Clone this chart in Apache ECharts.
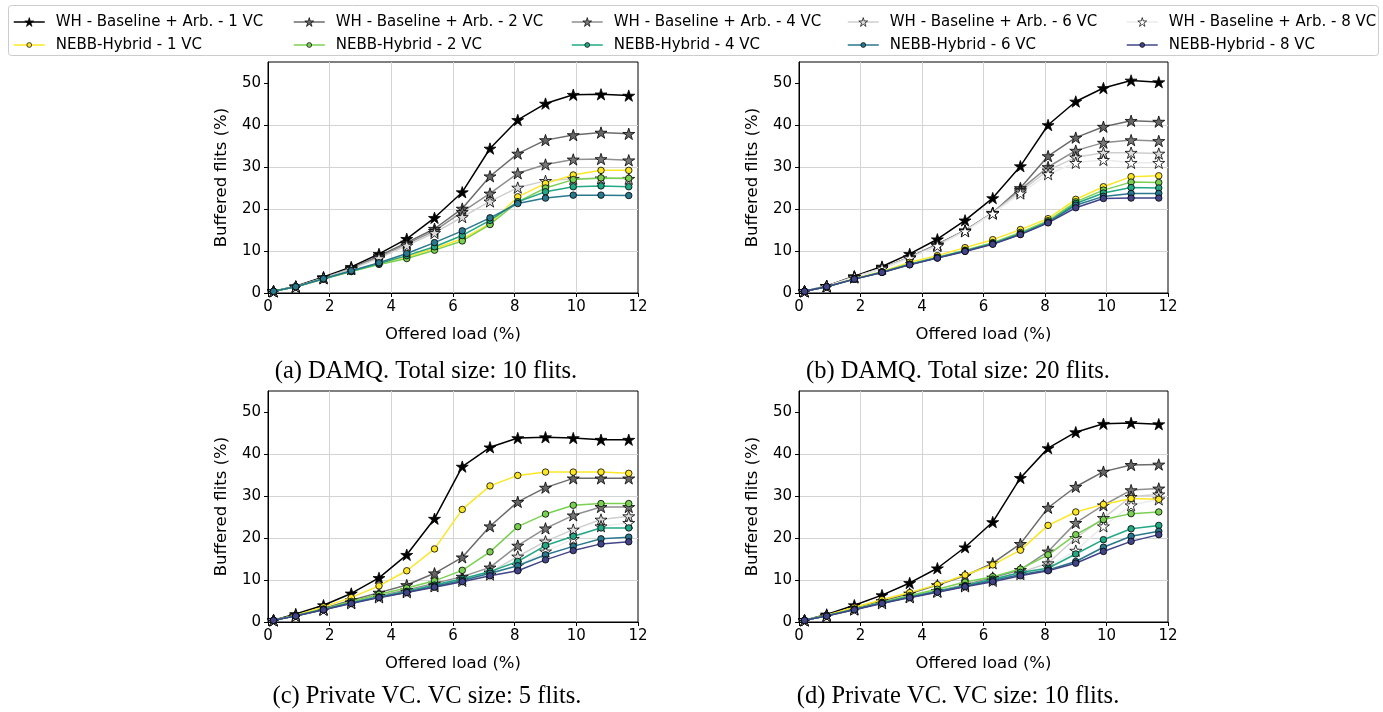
<!DOCTYPE html>
<html>
<head>
<meta charset="utf-8">
<title>Buffered flits</title>
<script src="https://cdn.jsdelivr.net/npm/echarts@6/dist/echarts.min.js"></script>
<style>
  html, body { margin: 0; padding: 0; background: #fff; }
  #chart { width: 1383px; height: 712px; }
</style>
</head>
<body>
<div id="chart"></div>
<script>
// offered load (%) of every point
var loads = [0.18, 0.9, 1.8, 2.7, 3.6, 4.5, 5.4, 6.3, 7.2, 8.1, 9.0, 9.9, 10.8, 11.7];

var vcs = [1, 2, 4, 6, 8];
var whNames = vcs.map(function (v) { return 'WH - Baseline + Arb. - ' + v + ' VC'; });
var nbNames = vcs.map(function (v) { return 'NEBB-Hybrid - ' + v + ' VC'; });

var captions = [
    '(a) DAMQ. Total size: 10 flits.',
    '(b) DAMQ. Total size: 20 flits.',
    '(c) Private VC. VC size: 5 flits.',
    '(d) Private VC. VC size: 10 flits.'
];
var yTicks = [0, 10, 20, 30, 40, 50];

// (a) DAMQ 10 flits  (no 8 VC)
var a_wh1 = [0.4, 1.6, 3.8, 6.2, 9.3, 12.9, 17.9, 24.0, 34.4, 41.2, 45.1, 47.2, 47.3, 47.0];
var a_wh2 = [0.4, 1.5, 3.6, 5.9, 8.8, 12.0, 15.3, 20.1, 27.8, 33.2, 36.4, 37.6, 38.2, 37.9];
var a_wh4 = [0.4, 1.5, 3.6, 5.8, 8.5, 11.7, 14.8, 19.3, 23.7, 28.5, 30.6, 31.8, 31.9, 31.6];
var a_wh6 = [0.4, 1.5, 3.5, 5.7, 8.3, 11.3, 14.3, 18.1, 21.8, 25.1, 26.7, 27.2, 27.3, 27.2];
var a_nb1 = [0.4, 1.5, 3.4, 5.2, 7.1, 8.6, 10.6, 12.9, 16.5, 22.9, 26.1, 28.1, 29.2, 29.2];
var a_nb2 = [0.4, 1.5, 3.3, 5.1, 6.8, 8.2, 10.2, 12.4, 16.3, 21.7, 25.0, 27.0, 27.4, 27.3];
var a_nb4 = [0.4, 1.5, 3.4, 5.2, 7.0, 8.9, 11.0, 13.7, 17.3, 21.7, 24.1, 25.3, 25.5, 25.3];
var a_nb6 = [0.4, 1.5, 3.4, 5.3, 7.2, 9.4, 12.0, 14.8, 17.9, 21.3, 22.6, 23.3, 23.3, 23.2];

// (b) DAMQ 20 flits
var b_wh1 = [0.4, 1.7, 4.0, 6.3, 9.3, 12.8, 17.3, 22.6, 30.2, 40.0, 45.6, 48.8, 50.6, 50.2];
var b_wh2 = [0.4, 1.6, 3.8, 5.9, 8.5, 11.6, 14.9, 19.1, 25.0, 32.6, 37.0, 39.6, 41.0, 40.8];
var b_wh4 = [0.4, 1.6, 3.8, 5.9, 8.5, 11.5, 14.9, 19.1, 24.6, 30.0, 33.9, 35.8, 36.4, 36.2];
var b_wh6 = [0.4, 1.6, 3.8, 5.9, 8.4, 11.4, 14.8, 19.0, 24.2, 29.2, 32.3, 33.4, 33.4, 33.2];
var b_wh8 = [0.4, 1.6, 3.7, 5.8, 8.3, 11.2, 14.7, 18.9, 23.7, 28.3, 31.0, 31.7, 31.0, 31.0];
var b_nb1 = [0.4, 1.5, 3.4, 5.1, 7.3, 8.9, 10.8, 12.7, 15.1, 17.7, 22.3, 25.3, 27.7, 27.9];
var b_nb2 = [0.4, 1.5, 3.3, 5.0, 6.9, 8.5, 10.2, 12.0, 14.4, 17.2, 21.7, 24.5, 26.4, 26.3];
var b_nb4 = [0.4, 1.5, 3.3, 5.0, 6.8, 8.4, 10.0, 11.8, 14.1, 16.9, 21.3, 23.8, 25.1, 25.0];
var b_nb6 = [0.4, 1.5, 3.3, 4.9, 6.8, 8.4, 10.0, 11.7, 14.0, 16.8, 20.9, 23.0, 23.7, 23.7];
var b_nb8 = [0.4, 1.5, 3.3, 4.9, 6.7, 8.3, 9.9, 11.6, 13.9, 16.7, 20.3, 22.5, 22.6, 22.6];

// (c) Private VC 5 flits
var c_wh1 = [0.4, 1.9, 4.0, 6.8, 10.5, 16.0, 24.6, 37.0, 41.6, 43.8, 44.0, 43.8, 43.4, 43.4];
var c_wh2 = [0.4, 1.5, 3.2, 5.2, 7.0, 8.8, 11.6, 15.4, 22.8, 28.6, 32.0, 34.2, 34.2, 34.2];
var c_wh4 = [0.4, 1.5, 3.0, 4.7, 6.2, 7.6, 9.2, 10.8, 13.0, 18.2, 22.3, 25.4, 27.4, 27.4];
var c_wh6 = [0.4, 1.5, 3.0, 4.6, 6.0, 7.3, 8.8, 10.2, 11.8, 15.6, 19.2, 22.0, 24.4, 25.2];
var c_wh8 = [0.4, 1.5, 2.9, 4.5, 5.9, 7.1, 8.5, 9.8, 11.3, 13.5, 16.8, 19.8, 22.8, 23.6];
var c_nb1 = [0.4, 1.6, 3.6, 5.8, 8.6, 12.2, 17.4, 26.8, 32.4, 34.9, 35.7, 35.7, 35.7, 35.4];
var c_nb2 = [0.4, 1.5, 3.1, 4.9, 6.6, 8.1, 9.8, 12.3, 16.7, 22.7, 25.7, 27.8, 28.2, 28.2];
var c_nb4 = [0.4, 1.5, 3.0, 4.6, 6.0, 7.3, 8.8, 10.3, 12.0, 14.4, 18.2, 20.4, 22.4, 22.4];
var c_nb6 = [0.4, 1.5, 2.9, 4.5, 5.9, 7.1, 8.5, 9.9, 11.6, 13.4, 16.0, 18.0, 19.8, 20.2];
var c_nb8 = [0.4, 1.4, 2.9, 4.4, 5.8, 7.0, 8.3, 9.6, 11.0, 12.2, 14.8, 17.0, 18.6, 19.1];

// (d) Private VC 10 flits
var d_wh1 = [0.4, 1.8, 4.0, 6.4, 9.3, 12.8, 17.8, 23.8, 34.3, 41.4, 45.2, 47.2, 47.4, 47.1];
var d_wh2 = [0.4, 1.5, 3.3, 5.0, 6.8, 8.8, 11.0, 14.0, 18.6, 27.2, 32.2, 35.8, 37.4, 37.5];
var d_wh4 = [0.4, 1.5, 3.1, 4.7, 6.1, 7.4, 8.9, 10.6, 12.4, 16.8, 23.6, 27.8, 31.4, 31.8];
var d_wh6 = [0.4, 1.5, 3.0, 4.6, 6.0, 7.3, 8.7, 10.1, 11.8, 14.0, 20.0, 24.8, 29.8, 30.4];
var d_wh8 = [0.4, 1.5, 3.0, 4.5, 5.9, 7.2, 8.5, 9.8, 11.4, 13.2, 17.0, 22.8, 27.8, 29.2];
var d_nb1 = [0.4, 1.6, 3.5, 5.3, 7.0, 8.9, 11.2, 13.6, 17.1, 23.0, 26.2, 28.0, 29.4, 29.2];
var d_nb2 = [0.4, 1.5, 3.1, 4.7, 6.3, 7.8, 9.5, 10.8, 12.6, 16.0, 20.8, 24.4, 25.8, 26.2];
var d_nb4 = [0.4, 1.5, 3.0, 4.6, 6.0, 7.3, 8.7, 10.2, 11.8, 12.8, 16.2, 19.6, 22.2, 23.0];
var d_nb6 = [0.4, 1.5, 3.0, 4.5, 5.9, 7.2, 8.5, 9.9, 11.3, 12.4, 14.4, 17.8, 20.4, 21.6];
var d_nb8 = [0.4, 1.4, 2.9, 4.4, 5.8, 7.1, 8.4, 9.6, 11.0, 12.2, 14.0, 16.8, 19.2, 20.8];

var panels = [
    { wh: [a_wh1, a_wh2, a_wh4, a_wh6, null], nb: [a_nb1, a_nb2, a_nb4, a_nb6, null] },
    { wh: [b_wh1, b_wh2, b_wh4, b_wh6, b_wh8], nb: [b_nb1, b_nb2, b_nb4, b_nb6, b_nb8] },
    { wh: [c_wh1, c_wh2, c_wh4, c_wh6, c_wh8], nb: [c_nb1, c_nb2, c_nb4, c_nb6, c_nb8] },
    { wh: [d_wh1, d_wh2, d_wh4, d_wh6, d_wh8], nb: [d_nb1, d_nb2, d_nb4, d_nb6, d_nb8] }
];

// styles
var whLine = ['#000000', '#6b6b6b', '#8f8f8f', '#cfcfcf', '#ebebeb'];
var whFill = ['#000000', '#666666', '#777777', '#dcdcdc', '#ffffff'];
var nbColor = ['#fde725', '#7ad151', '#22a884', '#2a788e', '#414487'];
var star = 'path://M50 0 L61.23 34.55 L97.55 34.55 L68.16 55.9 L79.39 90.45 L50 69.1 L20.61 90.45 L31.84 55.9 L2.45 34.55 L38.77 34.55 Z';

var gridPos = [
    { left: 268, top: 62, width: 370, height: 231 },
    { left: 799, top: 62, width: 369, height: 231 },
    { left: 268, top: 391, width: 370, height: 231 },
    { left: 799, top: 391, width: 369, height: 231 }
];
var capPos = [[426, 372], [958, 372], [427, 697], [958, 697]];
var colX = [55, 335, 613, 889, 1168];

var font = 'DejaVu Sans';
var grids = [], xAxes = [], yAxes = [], series = [], legends = [], graphics = [];

graphics.push({
    type: 'rect', left: 8, top: 5, z: -10,
    shape: { width: 1370, height: 50, r: 3 },
    style: { fill: '#fff', stroke: '#cccccc', lineWidth: 1 }
});

gridPos.forEach(function (g, i) {
    grids.push({
        left: g.left, top: g.top, width: g.width, height: g.height,
        show: true, borderColor: '#000', borderWidth: 1, backgroundColor: 'transparent'
    });
    xAxes.push({
        type: 'value', gridIndex: i, min: 0, max: 12, interval: 2,
        name: 'Offered load (%)', nameLocation: 'middle', nameGap: 33,
        nameTextStyle: { fontFamily: font, fontSize: 16.5, color: '#000' },
        axisLine: { show: true, lineStyle: { color: '#000', width: 1 } },
        axisTick: { show: true, length: 4, lineStyle: { color: '#000' } },
        axisLabel: { fontFamily: font, fontSize: 15, color: '#000', margin: 7 },
        splitLine: { show: true, showMinLine: false, showMaxLine: false, lineStyle: { color: '#d4d4d4', width: 1 } }
    });
    yAxes.push({
        type: 'value', gridIndex: i, min: 0, max: 55, interval: 10,
        name: 'Buffered flits (%)', nameLocation: 'middle', nameGap: 38,
        nameTextStyle: { fontFamily: font, fontSize: 16.5, color: '#000' },
        axisLine: { show: true, lineStyle: { color: '#000', width: 1 } },
        axisTick: { show: true, length: 4, lineStyle: { color: '#000' }, customValues: yTicks },
        axisLabel: { fontFamily: font, fontSize: 15, color: '#000', margin: 7, customValues: yTicks },
        splitLine: { show: true, showMinLine: false, showMaxLine: false, lineStyle: { color: '#d4d4d4', width: 1 } }
    });
    graphics.push({
        type: 'text', x: capPos[i][0], y: capPos[i][1],
        style: {
            text: captions[i], fill: '#000', align: 'center', verticalAlign: 'middle',
            font: '24.5px "Liberation Serif", "Times New Roman", serif'
        }
    });

    var p = panels[i];
    p.wh.forEach(function (vals, k) {
        if (!vals) return;
        series.push({
            name: whNames[k], type: 'line', xAxisIndex: i, yAxisIndex: i,
            data: loads.map(function (x, j) { return [x, vals[j]]; }),
            symbol: star, symbolSize: 12, symbolKeepAspect: true,
            lineStyle: { color: whLine[k], width: 1.5 },
            itemStyle: { color: whFill[k], borderColor: '#000', borderWidth: 0.8 },
            emphasis: { disabled: true }, animation: false, z: 2
        });
    });
    p.nb.forEach(function (vals, k) {
        if (!vals) return;
        series.push({
            name: nbNames[k], type: 'line', xAxisIndex: i, yAxisIndex: i,
            data: loads.map(function (x, j) { return [x, vals[j]]; }),
            symbol: 'circle', symbolSize: 6.5,
            lineStyle: { color: nbColor[k], width: 1.5 },
            itemStyle: { color: nbColor[k], borderColor: '#000', borderWidth: 0.8 },
            emphasis: { disabled: true }, animation: false, z: 3
        });
    });
});

// one legend per entry so the columns line up like the original
vcs.forEach(function (v, k) {
    legends.push({
        data: [whNames[k]], left: colX[k] - 42, top: 14.5, padding: 0,
        itemWidth: 31, itemHeight: 11, selectedMode: false,
        itemStyle: { color: whFill[k], borderColor: '#000', borderWidth: 0.7 },
        lineStyle: { color: whLine[k], width: 1.5 },
        textStyle: { fontFamily: font, fontSize: 15, color: '#000', padding: [0, 0, 0, 6] }
    });
    legends.push({
        data: [nbNames[k]], left: colX[k] - 42, top: 37.5, padding: 0,
        itemWidth: 31, itemHeight: 6, selectedMode: false,
        itemStyle: { color: nbColor[k], borderColor: '#000', borderWidth: 0.7 },
        lineStyle: { color: nbColor[k], width: 1.5 },
        textStyle: { fontFamily: font, fontSize: 15, color: '#000', padding: [0, 0, 0, 6] }
    });
});

var myChart = echarts.init(document.getElementById('chart'), null, { renderer: 'canvas' });
myChart.setOption({
    backgroundColor: '#fff',
    animation: false,
    legend: legends,
    grid: grids,
    xAxis: xAxes,
    yAxis: yAxes,
    series: series,
    graphic: graphics
});
</script>
</body>
</html>
